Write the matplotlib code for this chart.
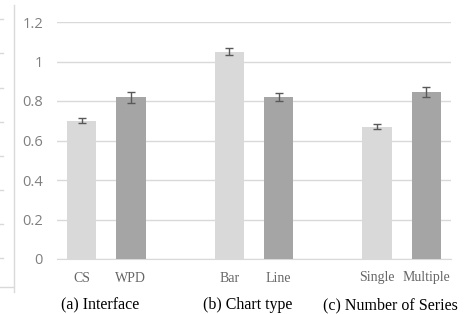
import numpy as np
import matplotlib
matplotlib.use("Agg")
import matplotlib.pyplot as plt
from matplotlib.lines import Line2D

# data
labels = ["CS", "WPD", "", "Bar", "Line", "", "Single", "Multiple"]
values = [0.70, 0.82, None, 1.05, 0.82, None, 0.67, 0.845]
errors = [0.012, 0.028, None, 0.019, 0.021, None, 0.014, 0.024]
groups = ["(a) Interface", "(b) Chart type", "(c) Number of Series"]
yticks = [0, 0.2, 0.4, 0.6, 0.8, 1, 1.2]

light = "#D9D9D9"
dark = "#A5A5A5"
gray_txt = "#595959"

W, H = 465, 314
fig = plt.figure(figsize=(W / 100, H / 100), dpi=100)
ax = fig.add_axes([57 / W, (H - 259) / H, (451 - 57) / W, (259 - 22) / H])

x = np.arange(len(labels))
for i, (v, e) in enumerate(zip(values, errors)):
    if v is None:
        continue
    col = light if labels[i] in ("CS", "Bar", "Single") else dark
    ax.bar(i, v, width=0.6, color=col, zorder=2)
    ax.errorbar(i, v, yerr=e, fmt="none", ecolor=gray_txt, elinewidth=1,
                capsize=3, capthick=1, zorder=3)

ax.set_xlim(-0.5, len(labels) - 0.5)
ax.set_ylim(0, 1.2)
ax.set_yticks(yticks)
ax.set_yticklabels(["0", "0.2", "0.4", "0.6", "0.8", "1", "1.2"],
                   fontfamily="Open Sans", fontsize=10.5, color="#7F7F7F")
ax.set_xticks([i for i, l in enumerate(labels) if l])
ax.set_xticklabels([l for l in labels if l], fontfamily="Liberation Serif",
                   fontsize=10, color="#666666")
ax.tick_params(axis="y", length=0, pad=10)
ax.tick_params(axis="x", length=0, pad=9)
ax.yaxis.grid(True, color=light, lw=1, zorder=0)
ax.set_axisbelow(True)
for s in ["top", "right", "left"]:
    ax.spines[s].set_visible(False)
ax.spines["bottom"].set_color(light)
ax.spines["bottom"].set_zorder(1)

# group captions
for gx, g in zip([100, 248, 390], groups):
    fig.text(gx / W, 1 - 305 / H, g, ha="center", va="center",
             fontfamily="Liberation Serif", fontsize=11.5, color="black")

# leftover border of the neighbouring chart at the left edge
def px_line(xs, ys, **kw):
    fig.add_artist(Line2D([v / W for v in xs], [1 - v / H for v in ys],
                          transform=fig.transFigure, **kw))

px_line([14, 14], [5, 292], color="#D9D9D9", lw=1)
px_line([0, 13], [287, 287], color="#D9D9D9", lw=1)
for yy in [19, 53, 88, 122, 156, 190, 224, 258]:
    px_line([0, 3], [yy, yy], color="#D9D9D9", lw=1)

fig.savefig("out.png", dpi=100)
